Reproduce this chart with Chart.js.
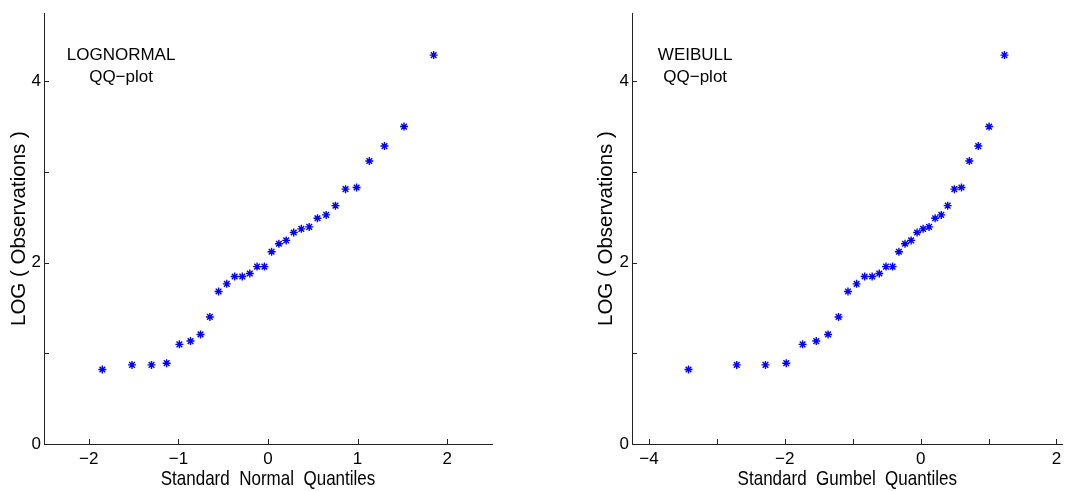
<!DOCTYPE html>
<html>
<head>
<meta charset="utf-8">
<script src="https://cdn.jsdelivr.net/npm/chart.js@4/dist/chart.umd.min.js"></script>
<style>
    html, body { margin: 0; padding: 0; background: #fff; }
    body { width: 1068px; height: 491px; position: relative; overflow: hidden; }
    canvas { position: absolute; top: 0; }
    #lognormal-chart { left: 0; }
    #weibull-chart { left: 560px; }
</style>
</head>
<body>
<canvas id="lognormal-chart" width="540" height="491"></canvas>
<canvas id="weibull-chart" width="508" height="491"></canvas>
<script>
// sorted log observations (same for both plots)
const logObservations = [0.821, 0.872, 0.872, 0.891, 1.099, 1.135, 1.208, 1.401, 1.682, 1.766,
    1.847, 1.847, 1.880, 1.956, 1.956, 2.120, 2.208, 2.245, 2.332, 2.372,
    2.394, 2.489, 2.526, 2.628, 2.810, 2.828, 3.120, 3.285, 3.500, 4.288];

// plotting positions
const normalQuantiles = [-1.849, -1.518, -1.300, -1.131, -0.989, -0.865, -0.753, -0.649, -0.552, -0.460,
    -0.372, -0.287, -0.203, -0.122, -0.040, 0.040, 0.122, 0.203, 0.287, 0.372,
    0.460, 0.552, 0.649, 0.753, 0.865, 0.989, 1.131, 1.300, 1.518, 1.849];
const gumbelQuantiles = [-3.418, -2.708, -2.285, -1.979, -1.738, -1.537, -1.363, -1.209, -1.070, -0.943,
    -0.825, -0.714, -0.609, -0.510, -0.413, -0.320, -0.230, -0.140, -0.052, 0.036,
    0.124, 0.213, 0.304, 0.398, 0.496, 0.601, 0.717, 0.848, 1.008, 1.234];

// ticks
const yTicks = [0, 1, 2, 3, 4];
const yTickLabels = ['0', '', '2', '', '4'];
const normalTicks = [-2, -1, 0, 1, 2];
const normalTickLabels = ['\u22122', '\u22121', '0', '1', '2'];
const gumbelTicks = [-4, -3, -2, -1, 0, 1, 2];
const gumbelTickLabels = ['\u22124', '', '\u22122', '', '0', '', '2'];

const FAMILY = '"Liberation Sans", Arial, Helvetica, sans-serif';
const FONT = { family: FAMILY, size: 17 };
const YTITLE_FONT = { family: FAMILY, size: 20.5 };

// inward tick marks, narrow x title and the two-line label inside the axes
const matlabAxesPlugin = {
    id: 'matlabAxes',
    afterDraw(chart, args, opts) {
        const ctx = chart.ctx;
        const area = chart.chartArea;
        const xs = chart.scales.x;
        const ys = chart.scales.y;
        ctx.save();
        ctx.strokeStyle = '#222';
        ctx.lineWidth = 1;
        ctx.beginPath();
        xs.ticks.forEach(t => {
            const px = Math.round(xs.getPixelForValue(t.value)) + 0.5;
            ctx.moveTo(px, area.bottom);
            ctx.lineTo(px, area.bottom - 5);
        });
        ys.ticks.forEach(t => {
            const py = Math.round(ys.getPixelForValue(t.value)) + 0.5;
            ctx.moveTo(area.left, py);
            ctx.lineTo(area.left + 5, py);
        });
        ctx.stroke();

        ctx.fillStyle = '#000';
        ctx.textAlign = 'center';
        ctx.textBaseline = 'middle';

        // x title, squeezed sideways like the original
        ctx.save();
        ctx.font = `21px ${FAMILY}`;
        ctx.translate((area.left + area.right) / 2, xs.bottom - 12);
        ctx.scale(0.81, 1);
        ctx.fillText(opts.xTitle, 0, 0);
        ctx.restore();

        ctx.font = `${FONT.size}px ${FONT.family}`;
        const cx = xs.getPixelForValue(opts.x);
        const cy = ys.getPixelForValue(opts.y);
        opts.lines.forEach((line, i) => ctx.fillText(line, cx, cy + i * 22));
        ctx.restore();
    }
};

function fixedTicks(values) {
    return scale => {
        scale.ticks = values.map(v => ({ value: v }));
    };
}

function buildChart(canvasId, cfg) {
    const ctx = document.getElementById(canvasId);
    return new Chart(ctx.getContext('2d'), {
        type: 'scatter',
        data: {
            datasets: [{
                data: cfg.xValues.map((x, i) => ({ x: x, y: logObservations[i] })),
                pointStyle: 'star',
                pointRadius: 4,
                borderColor: '#0000ff',
                backgroundColor: '#0000ff',
                borderWidth: 1.4,
            }]
        },
        plugins: [matlabAxesPlugin],
        options: {
            responsive: false,
            animation: false,
            events: [],
            layout: {
                padding: { left: 0, top: 10, right: cfg.padRight, bottom: 0 }
            },
            plugins: {
                legend: { display: false },
                tooltip: { enabled: false },
                matlabAxes: cfg.note,
            },
            scales: {
                x: {
                    type: 'linear',
                    min: cfg.xMin,
                    max: cfg.xMax,
                    afterBuildTicks: fixedTicks(cfg.xTicks),
                    afterFit: scale => { scale.height = 47; },
                    grid: { display: false, drawTicks: false },
                    border: { display: true, color: '#222', width: 1 },
                    ticks: {
                        color: '#000',
                        font: FONT,
                        padding: 5,
                        maxRotation: 0,
                        autoSkip: false,
                        callback: (v, i) => cfg.xTickLabels[i],
                    },
                    title: { display: false }
                },
                y: {
                    type: 'linear',
                    min: 0,
                    max: 4.75,
                    afterBuildTicks: fixedTicks(yTicks),
                    afterFit: scale => { scale.width = cfg.yWidth; },
                    grid: { display: false, drawTicks: false },
                    border: { display: true, color: '#222', width: 1 },
                    ticks: {
                        color: '#000',
                        font: FONT,
                        padding: 3,
                        autoSkip: false,
                        callback: (v, i) => yTickLabels[i],
                    },
                    title: {
                        display: true,
                        text: 'LOG ( Observations )',
                        color: '#000',
                        font: YTITLE_FONT,
                        padding: { top: cfg.yTitlePad, bottom: 0 },
                    }
                }
            }
        }
    });
}

buildChart('lognormal-chart', {
    xValues: normalQuantiles,
    xMin: -2.5,
    xMax: 2.5,
    xTicks: normalTicks,
    xTickLabels: normalTickLabels,
    yWidth: 44,
    yTitlePad: 7,
    padRight: 48,
    note: { x: -1.64, y: 4.29, lines: ['LOGNORMAL', 'QQ\u2212plot'], xTitle: 'Standard  Normal  Quantiles' },
});

buildChart('weibull-chart', {
    xValues: gumbelQuantiles,
    xMin: -4.25,
    xMax: 2.09,
    xTicks: gumbelTicks,
    xTickLabels: gumbelTickLabels,
    yWidth: 72,
    yTitlePad: 34,
    padRight: 0,
    note: { x: -3.32, y: 4.29, lines: ['WEIBULL', 'QQ\u2212plot'], xTitle: 'Standard  Gumbel  Quantiles' },
});
</script>
</body>
</html>
